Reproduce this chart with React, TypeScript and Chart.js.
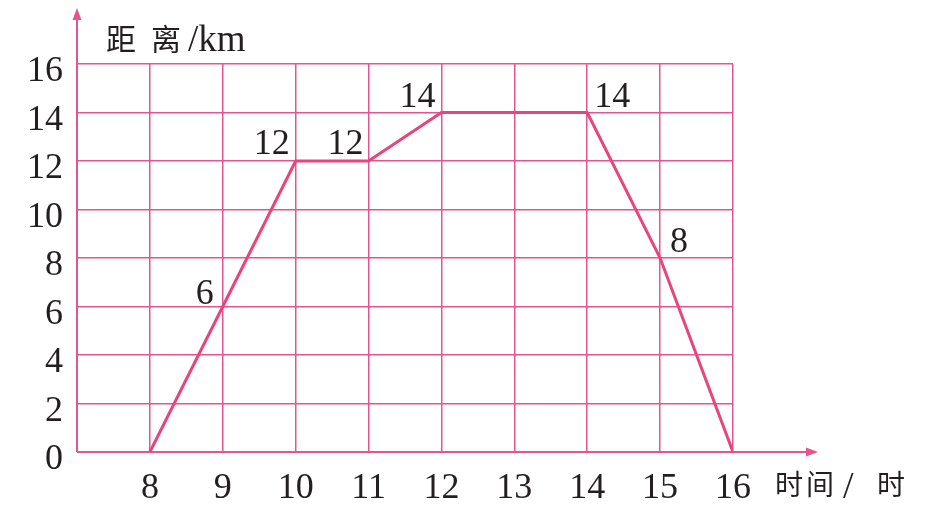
import React, { useEffect, useRef } from "react";
import { Chart, registerables } from "chart.js";

Chart.register(...registerables);

const hours = [8, 9, 10, 11, 12, 13, 14, 15, 16];
const distances = [0, 6, 12, 12, 14, 14, 14, 8, 0];
const labelledHours = [9, 10, 11, 12, 14, 15];
const yTicks = [0, 2, 4, 6, 8, 10, 12, 14, 16];
const yTitle = ["距离", "/km"];
const xTitle = ["时间", "/", "时"];

const PINK_GRID = "#e5548c";
const PINK_LINE = "#e8457f";
const SERIF = "'Liberation Serif', 'DejaVu Serif', serif";
const CJK = "'Noto Sans CJK SC', sans-serif";

// label offsets relative to point (dx, dy) by hour
const labelOffsets: Record<number, [number, number]> = {
  9: [-18, -15],
  10: [-24, -19],
  11: [-23, -19],
  12: [-24, -18],
  14: [25, -18],
  15: [19, -18],
};

const decorPlugin = {
  id: "decor",
  beforeDatasetsDraw(chart: any) {
    const { ctx, chartArea, scales } = chart;
    const x0 = chartArea.left;
    const y0 = scales.y.getPixelForValue(0);
    ctx.save();
    ctx.strokeStyle = PINK_GRID;
    ctx.fillStyle = PINK_GRID;
    ctx.lineWidth = 2;
    // y axis
    ctx.beginPath();
    ctx.moveTo(x0, y0);
    ctx.lineTo(x0, 16);
    ctx.stroke();
    ctx.beginPath();
    ctx.moveTo(x0, 8);
    ctx.lineTo(x0 - 4.5, 20);
    ctx.lineTo(x0 + 4.5, 20);
    ctx.closePath();
    ctx.fill();
    // x axis
    ctx.beginPath();
    ctx.moveTo(x0, y0);
    ctx.lineTo(810, y0);
    ctx.stroke();
    ctx.beginPath();
    ctx.moveTo(818, y0);
    ctx.lineTo(806, y0 - 4.5);
    ctx.lineTo(806, y0 + 4.5);
    ctx.closePath();
    ctx.fill();
    ctx.restore();
  },
  afterDraw(chart: any) {
    const { ctx, scales } = chart;
    ctx.save();
    ctx.fillStyle = "#231f20";
    ctx.font = `36px ${SERIF}`;
    ctx.textAlign = "center";
    ctx.textBaseline = "alphabetic";
    hours.forEach((h, i) => {
      if (!labelledHours.includes(h)) return;
      const px = scales.x.getPixelForValue(h);
      const py = scales.y.getPixelForValue(distances[i]);
      const [dx, dy] = labelOffsets[h] || [0, -18];
      ctx.fillText(String(distances[i]), px + dx, py + dy + 12);
    });
    // y title
    ctx.textAlign = "left";
    ctx.font = `30px ${CJK}`;
    ctx.fillText(yTitle[0][0], 106, 50);
    ctx.fillText(yTitle[0][1], 151, 50);
    ctx.font = `37px ${SERIF}`;
    ctx.fillText(yTitle[1], 188, 51);
    // x title
    ctx.font = `28px ${CJK}`;
    ctx.fillText(xTitle[0][0], 775, 495);
    ctx.fillText(xTitle[0][1], 806, 495);
    ctx.font = `38px ${SERIF}`;
    ctx.fillText(xTitle[1], 843, 498);
    ctx.font = `28px ${CJK}`;
    ctx.fillText(xTitle[2], 877, 495);
    ctx.restore();
  },
};

export default function App() {
  const ref = useRef<HTMLCanvasElement>(null);
  useEffect(() => {
    if (!ref.current) return;
    const chart = new Chart(ref.current, {
      type: "line",
      data: {
        datasets: [
          {
            data: hours.map((h, i) => ({ x: h, y: distances[i] })),
            borderColor: PINK_LINE,
            borderWidth: 3,
            pointRadius: 0,
            tension: 0,
            fill: false,
          },
        ],
      },
      options: {
        animation: false,
        responsive: false,
        events: [],
        layout: { padding: { top: 64, right: 207, left: 0, bottom: 0 } },
        plugins: { legend: { display: false }, tooltip: { enabled: false } },
        scales: {
          x: {
            type: "linear",
            min: 7,
            max: 16,
            afterFit: (s: any) => {
              s.height = 58;
            },
            border: { display: false },
            grid: { color: PINK_GRID, lineWidth: 1.5, drawTicks: false },
            ticks: {
              stepSize: 1,
              padding: 15,
              color: "#231f20",
              font: { family: SERIF, size: 36 },
              callback: (v: any) => (v === 7 ? "" : String(v)),
            },
          },
          y: {
            min: 0,
            max: 16,
            afterFit: (s: any) => {
              s.width = 77;
            },
            afterBuildTicks: (s: any) => {
              s.ticks = yTicks.map((v) => ({ value: v }));
            },
            border: { display: false },
            grid: { color: PINK_GRID, lineWidth: 1.5, drawTicks: false },
            ticks: {
              padding: 14,
              labelOffset: 8,
              color: "#231f20",
              font: { family: SERIF, size: 36 },
            },
          },
        },
      },
      plugins: [decorPlugin],
    });
    return () => chart.destroy();
  }, []);
  return (
    <div style={{ position: "absolute", left: 0, top: 0, width: 940, height: 510, background: "#fff" }}>
      <canvas ref={ref} width={940} height={510} />
    </div>
  );
}
